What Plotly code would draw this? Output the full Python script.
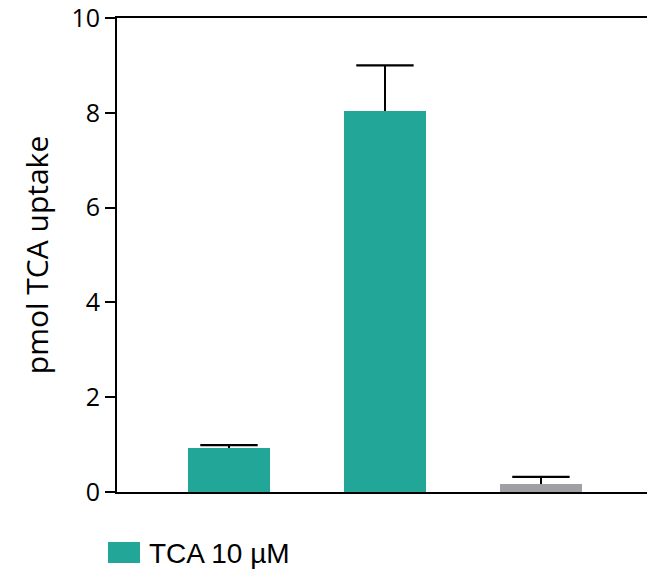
import plotly.graph_objects as go

# Uptake data (pmol TCA), one bar per condition
groups = ["Condition 1", "Condition 2", "Condition 3"]
uptake = [0.93, 8.03, 0.16]
uptake_err = [0.06, 0.97, 0.16]
bar_colors = ["#22a698", "#22a698", "#a0a0a4"]
y_ticks = [0, 2, 4, 6, 8, 10]
legend_label = "TCA 10 µM"
y_title = "pmol TCA uptake"

W, H = 647, 569
M_L, M_R, M_T, M_B = 117, 0, 18, 77
plot_w = W - M_L - M_R
plot_h = H - M_T - M_B

xs = list(range(len(groups)))
err_top = [v + e for v, e in zip(uptake, uptake_err)]

fig = go.Figure()
# Bars with upward-only error stems
fig.add_trace(go.Bar(
    x=xs,
    y=uptake,
    width=0.526,
    marker=dict(color=bar_colors, line=dict(width=0)),
    error_y=dict(type="data", symmetric=False, array=uptake_err,
                 arrayminus=[0] * len(uptake), color="black",
                 thickness=1.6, width=0),
    hovertext=groups,
    showlegend=False,
))
# Caps drawn only at the upper end of each error bar
fig.add_trace(go.Scatter(
    x=xs, y=err_top, mode="markers",
    marker=dict(symbol="line-ew", size=41, color="black",
                line=dict(width=2.2, color="black")),
    showlegend=False, hoverinfo="skip",
))

# Legend swatch and label placed beneath the axes
def px_x(px):
    return (px - M_L) / plot_w

def px_y(py):
    return (H - M_B - py) / plot_h

fig.add_shape(type="rect", xref="paper", yref="paper",
              x0=px_x(108), x1=px_x(140), y0=px_y(563), y1=px_y(542),
              fillcolor="#22a698", line=dict(width=0))
fig.add_annotation(xref="paper", yref="paper", x=px_x(147), y=px_y(553),
                   text=legend_label, showarrow=False, xanchor="left",
                   yanchor="middle",
                   font=dict(family="Liberation Sans, Arial", size=28,
                             color="black"))

fig.update_layout(
    width=W, height=H,
    margin=dict(l=M_L, r=M_R, t=M_T, b=M_B, pad=0),
    paper_bgcolor="white", plot_bgcolor="white",
    bargap=0,
    xaxis=dict(range=[-0.718, 2.68], showticklabels=False, ticks="",
               showgrid=False, zeroline=False, showline=True,
               linecolor="black", linewidth=2, mirror=True, fixedrange=True),
    yaxis=dict(range=[0, 10], tickvals=y_ticks, ticks="outside", ticklen=10,
               tickwidth=2, tickcolor="black", showgrid=False,
               zeroline=False, showline=True, linecolor="black", linewidth=2,
               ticklabeloverflow="allow",
               tickfont=dict(family="Open Sans", size=25, color="black"),
               title=dict(text=y_title, standoff=14,
                          font=dict(family="Open Sans", size=30,
                                    color="black"))),
    font=dict(family="Open Sans", color="black"),
)

fig.write_html("out.html")
